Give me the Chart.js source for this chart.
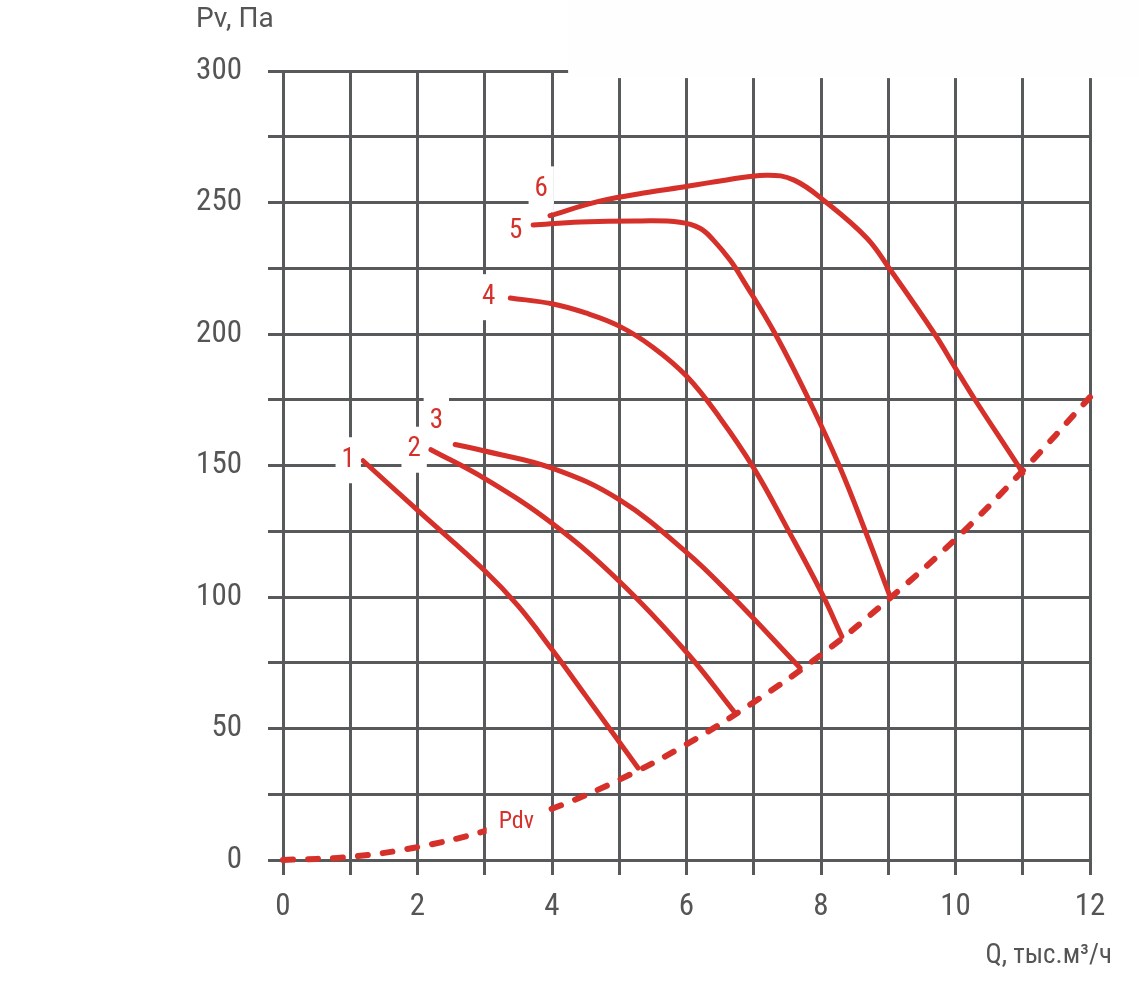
<!DOCTYPE html>
<html>
<head>
<meta charset="utf-8">
<script src="https://cdn.jsdelivr.net/npm/chart.js@4.4.1/dist/chart.umd.min.js"></script>
<style>
  html, body { margin: 0; padding: 0; background: #fff; }
</style>
</head>
<body>
<canvas id="fanChart" width="1139" height="982"></canvas>
<script>
// curves: Q in thousand m3/h, Pv in Pa
const q1 = [1.19, 2.0, 3.0, 3.5, 4.0, 4.5, 5.28];
const p1 = [151.8, 133, 110, 96.5, 80, 62.5, 35];
const q2 = [2.2, 3.0, 4.0, 5.0, 6.0, 6.72];
const p2 = [156, 145, 128, 106, 79, 56];
const q3 = [2.56, 3.0, 4.0, 5.0, 6.0, 6.65, 7.69];
const p3 = [158, 155.5, 149, 137, 117, 101, 73];
const q4 = [3.38, 4.0, 4.5, 5.0, 5.5, 6.0, 6.5, 7.0, 7.5, 8.0, 8.31];
const p4 = [213.7, 211.5, 208, 203, 195, 184, 168, 149, 126, 102, 85];
const q5 = [3.72, 4.42, 5.31, 5.9, 6.2, 6.4, 6.65, 6.84, 7.32, 7.82, 8.27, 8.66, 9.03];
const p5 = [241.4, 242.6, 243, 242.5, 240.2, 235.7, 228, 220.5, 200, 175, 150, 125, 100];
const q6 = [3.97, 4.71, 5.46, 5.9, 6.5, 7.19, 7.6, 8.08, 8.68, 9.0, 9.69, 10.0, 10.29, 10.93, 11.0];
const p6 = [245, 250.5, 254, 255.7, 258.2, 260.4, 258.5, 250, 236.5, 225.5, 200, 187, 175, 150, 147];
const qPdv = [0, 1, 2, 3, 4, 5, 6, 7, 8, 9, 10, 11, 12];
const pPdv = [0, 1.2, 4.9, 11, 19.5, 30.5, 44, 60, 78, 99, 122, 148, 176];

const curveLabels = ['1', '2', '3', '4', '5', '6', 'Pdv'];
const labelQ = [0.97, 1.95, 2.28, 3.06, 3.46, 3.84, 3.47];
const labelP = [152, 156, 167, 214, 239, 255, 14.5];

const RED = '#d6302a';
const GRID = '#58595b';
const FONT = "'Roboto Condensed', 'Liberation Sans Narrow', 'DejaVu Sans Condensed', sans-serif";

function pts(q, p) {
    return q.map((v, i) => ({ x: v, y: p[i] }));
}

function curve(q, p) {
    return {
        data: pts(q, p),
        borderColor: RED,
        borderWidth: 5,
        pointRadius: 0,
        tension: 0.4,
        fill: false,
        clip: false,
        borderCapStyle: 'round',
        borderJoinStyle: 'round'
    };
}

const pdvSet = curve(qPdv, pPdv);
pdvSet.borderDash = [10, 15];
pdvSet.borderWidth = 6;

// top right part of the frame is blanked in the original
const coverPlugin = {
    id: 'cover',
    beforeDatasetsDraw(chart) {
        const { ctx, scales } = chart;
        const x0 = scales.x.getPixelForValue(4.24);
        const y1 = scales.y.getPixelForValue(297.3);
        ctx.save();
        ctx.fillStyle = '#fefefe';
        ctx.fillRect(x0, 0, chart.width - x0, y1);
        ctx.restore();
    }
};

const textPlugin = {
    id: 'texts',
    afterDatasetsDraw(chart) {
        const { ctx, scales, chartArea } = chart;
        ctx.save();
        ctx.textAlign = 'center';
        ctx.textBaseline = 'middle';
        curveLabels.forEach((t, i) => {
            const x = scales.x.getPixelForValue(labelQ[i]);
            const y = scales.y.getPixelForValue(labelP[i]);
            const wide = t.length > 1;
            ctx.font = (wide ? '24px ' : '27px ') + FONT;
            const w = ctx.measureText(t).width + (wide ? 24 : 12);
            const h = wide ? 40 : 46;
            ctx.fillStyle = '#ffffff';
            ctx.fillRect(x - w / 2, y - h / 2, w, h);
            ctx.fillStyle = RED;
            ctx.fillText(t, x, y);
        });
        ctx.fillStyle = '#555';
        ctx.textAlign = 'left';
        ctx.textBaseline = 'alphabetic';
        ctx.font = '28px Roboto, sans-serif';
        ctx.fillText('Pv, Па', chartArea.left - 87, 27);
        ctx.font = '27px ' + FONT;
        ctx.textAlign = 'right';
        ctx.fillText('Q, тыс.м³/ч', chartArea.right + 22, 963);
        ctx.restore();
    }
};

const ctx = document.getElementById('fanChart').getContext('2d');
const fanChart = new Chart(ctx, {
    type: 'line',
    data: {
        datasets: [curve(q1, p1), curve(q2, p2), curve(q3, p3), curve(q4, p4), curve(q5, p5), curve(q6, p6), pdvSet]
    },
    options: {
        responsive: false,
        animation: false,
        layout: { padding: { left: 0, right: 49, top: 71, bottom: 0 } },
        plugins: { legend: { display: false }, tooltip: { enabled: false } },
        scales: {
            x: {
                type: 'linear',
                min: 0,
                max: 12,
                afterFit: s => { s.height = 122; },
                grid: { color: GRID, lineWidth: 3, tickLength: 15, tickColor: GRID, tickWidth: 3 },
                border: { color: GRID, width: 3 },
                ticks: {
                    stepSize: 1,
                    padding: 14,
                    color: '#555',
                    font: { family: FONT, size: 31 },
                    maxRotation: 0,
                    autoSkip: false,
                    callback: v => (v % 2 === 0 ? v : '')
                }
            },
            y: {
                min: 0,
                max: 300,
                afterFit: s => { s.width = 283; },
                grid: { color: GRID, lineWidth: 3, tickLength: 15, tickColor: GRID, tickWidth: 3 },
                border: { color: GRID, width: 3 },
                ticks: {
                    stepSize: 25,
                    padding: 26,
                    color: '#555',
                    font: { family: FONT, size: 31 },
                    autoSkip: false,
                    callback: v => (v % 50 === 0 ? v : '')
                }
            }
        }
    },
    plugins: [coverPlugin, textPlugin]
});
</script>
</body>
</html>
